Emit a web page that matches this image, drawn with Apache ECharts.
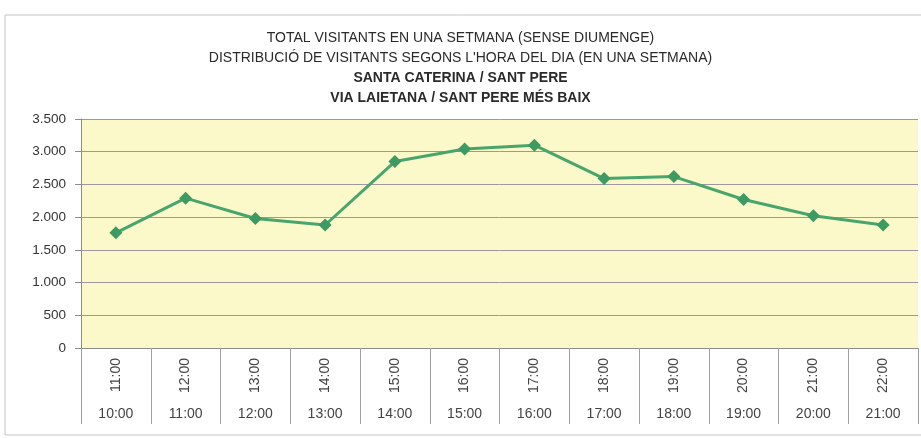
<!DOCTYPE html>
<html>
<head>
<meta charset="utf-8">
<script src="https://cdn.jsdelivr.net/npm/echarts@6/dist/echarts.min.js"></script>
<style>
  html, body { margin: 0; padding: 0; background: #fff; }
  #chart { width: 921px; height: 438px; }
</style>
</head>
<body>
<div id="chart"></div>
<script>
// franja horaria: hora final (girada) i hora d'inici
var horesFi = ['11:00', '12:00', '13:00', '14:00', '15:00', '16:00', '17:00', '18:00', '19:00', '20:00', '21:00', '22:00'];
var horesInici = ['10:00', '11:00', '12:00', '13:00', '14:00', '15:00', '16:00', '17:00', '18:00', '19:00', '20:00', '21:00'];
var visitants = [1760, 2290, 1980, 1880, 2850, 3040, 3100, 2590, 2620, 2270, 2020, 1880];
var titols = [
	'TOTAL VISITANTS EN UNA SETMANA (SENSE DIUMENGE)',
	'DISTRIBUCIÓ DE VISITANTS SEGONS L\'HORA DEL DIA (EN UNA SETMANA)',
	'SANTA CATERINA / SANT PERE',
	'VIA LAIETANA / SANT PERE MÉS BAIX'
];

var font = "'Liberation Sans', Arial, sans-serif";
var myChart = echarts.init(document.getElementById('chart'));

var titleList = titols.map(function(t, i) {
	return {
		text: t,
		left: 'center',
		top: 26 + i * 20,
		textStyle: {
			fontFamily: font,
			fontSize: 14,
			fontWeight: i < 2 ? 'normal' : 'bold',
			color: '#2a2a2a'
		}
	};
});

var option = {
	backgroundColor: '#fff',
	title: titleList,
	graphic: [{
		type: 'rect',
		shape: { x: 5, y: 15, width: 940, height: 420 },
		style: { fill: 'none', stroke: '#c4c4c4', lineWidth: 1 },
		silent: true,
		z: -1
	}],
	grid: {
		left: 81,
		right: 3,
		top: 119,
		bottom: 90,
		show: true,
		backgroundColor: '#fbf8c9',
		borderWidth: 0
	},
	xAxis: [{
		type: 'category',
		data: horesFi,
		boundaryGap: true,
		axisLine: { show: true, lineStyle: { color: '#8c8c8c', width: 1 } },
		axisTick: { show: true, length: 76, interval: 0, lineStyle: { color: '#a0a0a0' } },
		axisLabel: {
			rotate: 90,
			interval: 0,
			margin: 10,
			fontFamily: font,
			fontSize: 14,
			color: '#444'
		},
		splitLine: { show: false }
	}, {
		type: 'category',
		data: horesInici,
		position: 'bottom',
		boundaryGap: true,
		axisLine: { show: false },
		axisTick: { show: false },
		axisLabel: {
			interval: 0,
			margin: 59,
			fontFamily: font,
			fontSize: 14,
			color: '#444'
		}
	}],
	yAxis: {
		type: 'value',
		min: 0,
		max: 3500,
		interval: 500,
		axisLine: { show: true, lineStyle: { color: '#8c8c8c' } },
		axisTick: { show: true, length: 6, lineStyle: { color: '#8c8c8c' } },
		axisLabel: {
			margin: 15,
			fontFamily: font,
			fontSize: 13.5,
			color: '#333',
			formatter: function(v) {
				return String(v).replace(/\B(?=(\d{3})+(?!\d))/g, '.');
			}
		},
		splitLine: { show: true, lineStyle: { color: '#a096a0', width: 1 } }
	},
	series: [{
		type: 'line',
		data: visitants,
		xAxisIndex: 0,
		symbol: 'diamond',
		symbolSize: 13,
		itemStyle: { color: '#3c9a62' },
		lineStyle: { color: '#48a56c', width: 3 },
		animation: false
	}]
};

myChart.setOption(option);
</script>
</body>
</html>
